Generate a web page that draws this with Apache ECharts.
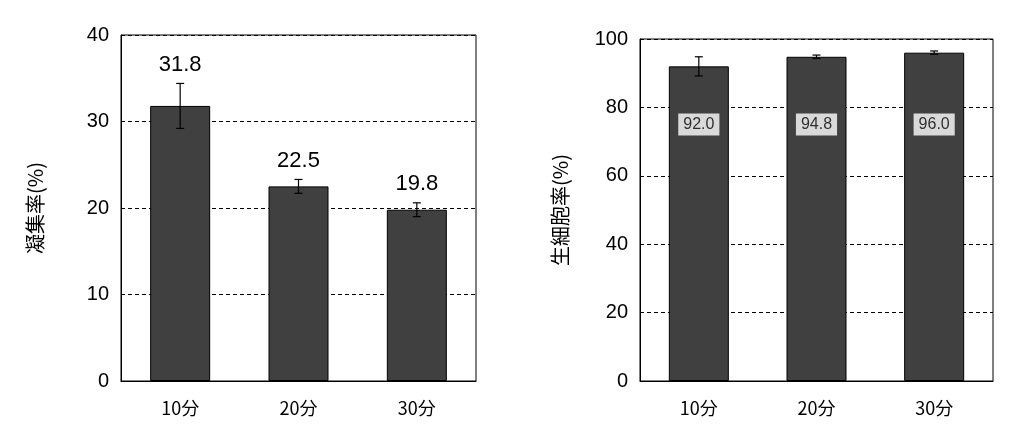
<!DOCTYPE html>
<html><head><meta charset="utf-8">
<script src="https://cdn.jsdelivr.net/npm/echarts@6/dist/echarts.min.js"></script>
<style>html,body{margin:0;background:#fff}#c{width:1024px;height:446px}</style>
</head><body><div id="c"></div>
<script>
var categories = ['10分', '20分', '30分'];
var aggValues = [31.8, 22.5, 19.8];
var aggErrors = [2.6, 0.8, 0.8];
var viaValues = [92.0, 94.8, 96.0];
var viaErrors = [2.8, 0.5, 0.5];
var viaLabelLevel = 75;

var FONT = '"Liberation Sans", "Noto Sans CJK JP", sans-serif';

function errSeries(xi, yi, vals, errs, showText) {
  return {
    type: 'custom', xAxisIndex: xi, yAxisIndex: yi, z: 5,
    data: vals.map(function (v, i) { return [i, v, errs[i]]; }),
    renderItem: function (params, api) {
      var x = api.value(0), v = api.value(1), e = api.value(2);
      var hi = api.coord([x, v + e]), lo = api.coord([x, v - e]);
      var s = { stroke: '#000', lineWidth: 1.2 };
      var kids = [
        { type: 'line', shape: { x1: hi[0], y1: hi[1], x2: lo[0], y2: lo[1] }, style: s },
        { type: 'line', shape: { x1: hi[0] - 4, y1: hi[1], x2: hi[0] + 4, y2: hi[1] }, style: s },
        { type: 'line', shape: { x1: lo[0] - 4, y1: lo[1], x2: lo[0] + 4, y2: lo[1] }, style: s }
      ];
      if (showText) {
        kids.push({ type: 'text', style: { text: v.toFixed(1), x: hi[0], y: hi[1] - 8,
          align: 'center', verticalAlign: 'bottom', font: '22px ' + FONT, fill: '#000' } });
      }
      return { type: 'group', children: kids };
    }
  };
}

var axisCommon = {
  axisLine: { show: true, lineStyle: { color: '#000' } },
  axisTick: { show: false },
  splitLine: { show: true, lineStyle: { color: '#000', type: [4, 3] } },
  axisLabel: { color: '#000', fontSize: 20, fontFamily: FONT, margin: 12 },
  nameLocation: 'middle', nameRotate: 90,
  nameTextStyle: { color: '#000', fontSize: 20, fontFamily: '"Noto Sans CJK JP", sans-serif' }
};
var xCommon = {
  type: 'category', data: categories,
  axisLine: { show: true, lineStyle: { color: '#000' } },
  axisTick: { show: false },
  axisLabel: { color: '#000', fontSize: 18, fontFamily: '"Noto Sans CJK JP", sans-serif', margin: 18 }
};

var option = {
  animation: false,
  grid: [
    { left: 121, top: 35, width: 355, height: 346, show: true, borderColor: '#000', borderWidth: 1 },
    { left: 640, top: 39, width: 353, height: 342, show: true, borderColor: '#000', borderWidth: 1 }
  ],
  xAxis: [
    Object.assign({ gridIndex: 0 }, xCommon),
    Object.assign({ gridIndex: 1 }, xCommon)
  ],
  yAxis: [
    Object.assign({}, axisCommon, { gridIndex: 0, min: 0, max: 40, interval: 10, name: '凝集率(%)', nameGap: 76 }),
    Object.assign({}, axisCommon, { gridIndex: 1, min: 0, max: 100, interval: 20, name: '生細胞率(%)', nameGap: 70 })
  ],
  series: [
    { type: 'bar', xAxisIndex: 0, yAxisIndex: 0, data: aggValues, barWidth: 60,
      itemStyle: { color: '#404040', borderColor: '#000', borderWidth: 1 } },
    errSeries(0, 0, aggValues, aggErrors, true),
    { type: 'bar', xAxisIndex: 1, yAxisIndex: 1, data: viaValues, barWidth: 60,
      itemStyle: { color: '#404040', borderColor: '#000', borderWidth: 1 } },
    errSeries(1, 1, viaValues, viaErrors, false),
    { type: 'scatter', xAxisIndex: 1, yAxisIndex: 1, symbolSize: 0, z: 6,
      data: viaValues.map(function (v, i) { return [i, viaLabelLevel, v]; }),
      label: { show: true, position: 'inside', formatter: function (p) { return p.value[2].toFixed(1); },
        backgroundColor: '#fff', padding: [3, 5], color: '#000', fontSize: 16, fontFamily: FONT } }
  ]
};
echarts.init(document.getElementById('c')).setOption(option);
</script></body></html>
